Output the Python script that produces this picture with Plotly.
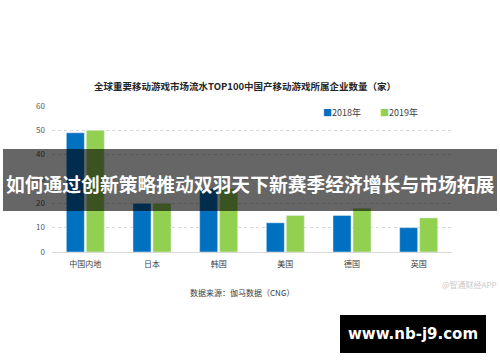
import plotly.graph_objects as go

categories = ["中国内地", "日本", "韩国", "美国", "德国", "英国"]
values_2018 = [49, 20, 26, 12, 15, 10]
values_2019 = [50, 20, 26, 15, 18, 14]
y_ticks = [0, 10, 20, 30, 40, 50, 60]

W, H = 500, 362
L, R, T, B = 52, 48, 106, 110
PW, PH = W - L - R, H - T - B


def px(x):
    return (x - L) / PW


def py(y):
    return (H - B - y) / PH


FONT = "Noto Sans CJK SC"
BLUE = "#0070c0"
GREEN = "#92d050"

fig = go.Figure()
fig.add_trace(go.Bar(x=categories, y=values_2018, name="2018年", marker_color=BLUE, showlegend=False))
fig.add_trace(go.Bar(x=categories, y=values_2019, name="2019年", marker_color=GREEN, showlegend=False))

fig.update_layout(
    width=W, height=H,
    margin=dict(l=L, r=R, t=T, b=B, pad=0),
    paper_bgcolor="white", plot_bgcolor="white",
    barmode="group", bargap=0.4, bargroupgap=0.1,
    font=dict(family=FONT, size=8, color="#595959"),
    xaxis=dict(showgrid=False, showline=True, linecolor="#d9d9d9", linewidth=1,
               tickfont=dict(size=8, color="#404040"), ticks="", ticklabelstandoff=4,
               fixedrange=True),
    yaxis=dict(range=[0, 60], tickvals=y_ticks, showgrid=True, gridcolor="#d9d9d9",
               griddash="dot", gridwidth=1, zeroline=False, showline=False,
               tickfont=dict(size=8, color="#595959"), ticks="", ticklabelstandoff=6,
               fixedrange=True),
)

annotations = [
    dict(x=px(245), y=py(86), text="<b>全球重要移动游戏市场流水TOP100中国产移动游戏所属企业数量（家）</b>",
         font=dict(size=9.5, color="#262626", family=FONT)),
    dict(x=px(321), y=py(112), xanchor="left",
         text=f"<span style='color:{BLUE}'>■</span>2018年", font=dict(size=9, color="#404040", family=FONT)),
    dict(x=px(378), y=py(112), xanchor="left",
         text=f"<span style='color:{GREEN}'>■</span>2019年", font=dict(size=9, color="#404040", family=FONT)),
    dict(x=px(242), y=py(292), text="数据来源：伽马数据（CNG）", font=dict(size=8, color="#404040", family=FONT)),
    dict(x=px(469), y=py(284), text="@智通财经APP", font=dict(size=8, color="#c8c8c8", family=FONT)),
    dict(x=px(250), y=py(183), text="<b>如何通过创新策略推动双羽天下新赛季经济增长与市场拓展</b>",
         font=dict(size=18.8, color="white", family=FONT)),
    dict(x=px(413), y=py(334), text="<b>www.nb-j9.com</b>",
         font=dict(size=15, color="white", family="DejaVu Sans")),
]
for a in annotations:
    a.update(xref="paper", yref="paper", showarrow=False)
    a.setdefault("xanchor", "center")
    a.setdefault("yanchor", "middle")
fig.update_layout(annotations=annotations)

fig.update_layout(shapes=[
    dict(type="rect", xref="paper", yref="paper", x0=px(3), x1=px(497), y0=py(149), y1=py(211),
         fillcolor="rgba(0,0,0,0.6)", line=dict(width=0), layer="above"),
    dict(type="rect", xref="paper", yref="paper", x0=px(340), x1=px(486), y0=py(315), y1=py(353),
         fillcolor="black", line=dict(width=0), layer="above"),
])

fig.write_html("out.html", config={"displayModeBar": False},
               post_script="document.body.style.margin='0';document.body.style.overflow='hidden';")
